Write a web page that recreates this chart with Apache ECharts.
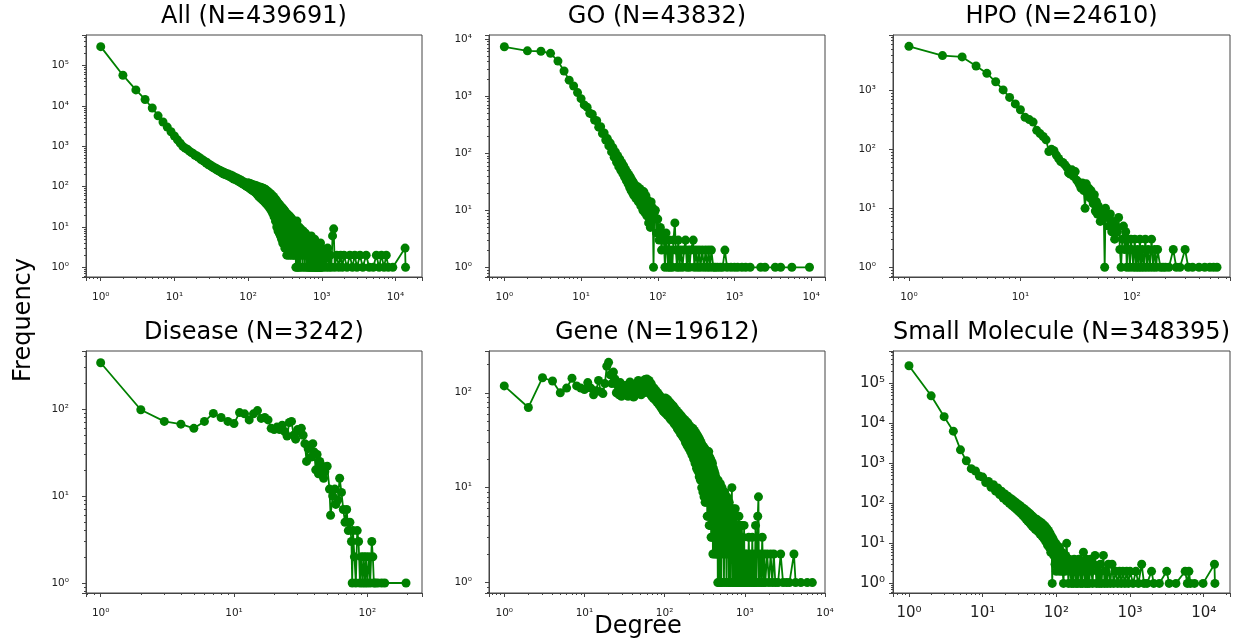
<!DOCTYPE html>
<html>
<head>
<meta charset="utf-8">
<script src="https://cdn.jsdelivr.net/npm/echarts@6/dist/echarts.min.js"></script>
<style>
html, body { margin: 0; padding: 0; background: #fff; }
#chart { width: 1251px; height: 644px; }
</style>
</head>
<body>
<div id="chart"></div>
<script>
// [degree, frequency] pairs
var allData = [[1,296000],[2,58000],[3,25000],[4,14500],[5,8900],[6,5700],[7,4000],[8,3000],[9,2300],[10,1800],[11,1450],[12,1200],[13,1000],[14,900],[15,840],[16,760],[17,700],[18,660],[19,600],[20,585],[21,540],[22,520],[23,470],[24,465],[25,430],[26,420],[27,385],[28,390],[29,350],[30,355],[31,330],[32,325],[33,300],[34,305],[35,285],[36,290],[37,265],[38,275],[39,250],[40,258],[41,240],[42,250],[43,228],[44,238],[45,215],[46,230],[47,205],[48,222],[49,198],[50,215],[52,190],[54,205],[56,178],[58,195],[60,165],[62,185],[64,155],[66,172],[68,148],[70,165],[72,140],[74,155],[76,132],[78,148],[80,125],[82,140],[84,118],[86,132],[88,112],[90,126],[92,106],[94,120],[96,100],[98,115],[100,125],[102,95],[104,120],[106,90],[108,118],[110,85],[112,115],[115,80],[118,110],[121,75],[124,108],[127,70],[130,105],[133,64],[136,100],[139,58],[142,98],[145,54],[148,96],[151,50],[155,94],[159,46],[163,90],[167,42],[171,86],[175,38],[180,80],[185,34],[190,74],[195,30],[200,68],[205,26],[210,62],[215,22],[220,57],[225,18],[230,52],[235,14],[240,47],[245,10],[250,42],[255,8],[260,38],[265,7],[270,35],[275,6],[280,32],[285,5],[290,30],[295,4],[300,28],[305,4],[310,26],[315,3],[320,24],[325,3],[330,22],[335,2],[340,21],[345,3],[350,20],[355,2],[360,19],[365,3],[370,18],[375,2],[380,17],[385,3],[390,16],[395,2],[400,15],[405,3],[410,14],[415,2],[420,13],[425,2],[430,12],[435,3],[440,12],[445,1],[450,11],[455,2],[460,14],[465,1],[470,10],[475,3],[480,9],[485,1],[490,10],[495,2],[500,8],[510,1],[520,9],[530,2],[540,7],[550,1],[560,8],[570,2],[580,6],[590,1],[600,7],[610,2],[620,5],[630,1],[640,6],[650,2],[660,1],[670,5],[680,1],[690,4],[700,2],[710,1],[720,6],[730,1],[740,3],[750,2],[760,1],[770,4],[780,1],[790,2],[800,5],[810,1],[820,3],[830,1],[840,2],[850,1],[860,4],[870,1],[880,3],[890,1],[900,2],[910,1],[920,3],[930,1],[940,2],[950,1],[960,4],[970,1],[980,2],[990,1],[1000,3],[1050,1],[1100,2],[1150,1],[1200,3],[1250,1],[1300,2],[1350,1],[1400,6],[1450,9],[1500,1],[1600,2],[1700,1],[1800,2],[1900,1],[2000,2],[2200,1],[2400,2],[2600,1],[2800,2],[3000,1],[3300,2],[3600,1],[4000,2],[4400,1],[5000,1],[5500,2],[6000,1],[6450,2],[7000,1],[7500,2],[8000,1],[9200,1],[13500,3],[13700,1]];

var goData = [[1,7300],[2,6200],[3,6100],[4,5600],[5,4100],[6,2750],[7,1900],[8,1500],[9,1150],[10,900],[11,700],[12,640],[13,500],[14,480],[15,380],[16,370],[17,285],[18,290],[19,220],[20,225],[21,170],[22,180],[23,135],[24,150],[25,105],[26,125],[27,85],[28,105],[29,70],[30,90],[31,58],[32,78],[33,50],[34,68],[35,44],[36,60],[37,38],[38,52],[39,33],[40,46],[41,29],[42,42],[43,25],[44,38],[45,22],[46,34],[47,20],[48,31],[49,18],[50,28],[52,16],[54,26],[56,14],[58,24],[60,12],[62,22],[64,10],[66,21],[68,9],[70,18],[72,8],[74,15],[76,6],[78,13],[80,5],[82,14],[84,7],[86,11],[88,1],[90,9],[93,10],[96,4],[100,7],[104,3],[108,5],[112,2],[116,4],[120,3],[124,1],[128,4],[132,2],[136,1],[140,3],[145,1],[150,2],[155,1],[160,3],[167,6],[172,2],[178,1],[185,3],[192,1],[200,2],[210,1],[220,2],[230,3],[240,1],[250,2],[260,1],[270,2],[290,3],[300,1],[315,2],[330,1],[345,2],[360,1],[380,2],[400,1],[420,2],[440,1],[460,2],[480,1],[500,2],[530,1],[560,1],[600,1],[650,1],[700,1],[750,2],[800,1],[900,1],[1000,1],[1100,1],[1250,1],[1400,1],[1600,1],[2200,1],[2500,1],[3400,1],[4000,1],[5600,1],[9500,1]];

var hpoData = [[1,5600],[2,3900],[3,3700],[4,2600],[5,1950],[6,1400],[7,1020],[8,760],[9,590],[10,470],[11,350],[12,320],[13,290],[14,210],[15,185],[16,165],[17,145],[18,92],[19,100],[20,95],[21,80],[22,70],[23,62],[24,60],[25,55],[26,50],[27,40],[28,38],[29,45],[30,35],[31,42],[32,30],[33,28],[34,25],[35,22],[36,27],[37,20],[38,10],[39,26],[40,18],[41,22],[42,15],[43,20],[44,14],[45,12],[46,17],[47,9],[48,13],[49,8],[50,11],[52,6],[54,9],[56,7],[57,1],[58,10],[60,7],[62,5],[64,8],[66,4],[68,6],[70,3],[72,5],[74,4],[76,7],[78,2],[80,1],[82,3],[84,5],[86,2],[88,4],[90,1],[92,3],[94,2],[96,1],[98,3],[100,2],[103,1],[106,3],[109,1],[112,2],[115,1],[118,3],[121,1],[124,2],[128,1],[132,3],[136,1],[140,2],[145,1],[150,3],[155,1],[160,2],[165,1],[170,2],[180,1],[190,1],[200,1],[215,1],[235,2],[250,1],[270,1],[300,2],[320,1],[350,1],[400,1],[450,1],[500,1],[540,1],[580,1]];

var diseaseData = [[1,340],[2,98],[3,72],[4,67],[5,60],[6,72],[7,89],[8,80],[9,72],[10,68],[11,91],[12,88],[13,75],[14,88],[15,96],[16,78],[17,80],[18,75],[19,60],[20,58],[21,62],[22,58],[23,65],[24,55],[25,49],[26,70],[27,72],[28,50],[29,45],[30,58],[31,55],[32,60],[33,50],[34,40],[35,25],[36,35],[37,38],[38,28],[39,40],[40,32],[41,20],[42,30],[43,18],[44,25],[45,20],[46,22],[47,16],[48,19],[50,22],[52,12],[53,6],[55,10],[57,12],[58,8],[60,9],[62,16],[64,11],[66,7],[68,5],[70,7],[72,4],[74,5],[76,3],[77,1],[78,4],[80,2],[82,1],[84,4],[86,3],[88,1],[90,2],[92,1],[94,2],[96,1],[98,2],[100,1],[103,2],[105,1],[108,3],[110,2],[112,1],[115,1],[120,1],[128,1],[135,1],[195,1]];

var geneData = [[1,118],[2,70],[3,144],[4,133],[5,100],[6,112],[7,142],[8,118],[9,112],[10,108],[11,128],[12,112],[13,95],[14,105],[15,135],[16,102],[17,98],[18,125],[19,190],[20,209],[21,155],[22,125],[23,165],[24,140],[25,100],[26,118],[27,95],[28,128],[29,92],[30,120],[31,105],[32,96],[33,112],[34,120],[35,92],[36,108],[37,130],[38,98],[39,118],[40,115],[41,90],[42,92],[43,122],[44,125],[45,100],[46,108],[47,135],[48,130],[49,110],[50,120],[51,95],[52,110],[53,128],[54,132],[55,100],[56,105],[57,138],[58,125],[59,108],[60,140],[61,110],[62,128],[63,100],[64,135],[65,105],[66,120],[67,96],[68,125],[69,92],[70,115],[72,88],[74,112],[76,84],[78,105],[80,80],[82,100],[84,76],[86,95],[88,72],[90,90],[92,68],[94,85],[96,64],[98,80],[100,62],[102,88],[104,60],[106,86],[108,58],[110,84],[112,57],[114,80],[116,54],[118,78],[120,52],[123,75],[126,50],[129,72],[132,47],[135,68],[138,45],[141,65],[144,42],[147,62],[150,40],[154,60],[158,37],[162,57],[166,35],[170,54],[174,33],[178,52],[182,30],[186,50],[190,28],[195,48],[200,26],[205,45],[210,24],[215,43],[220,22],[225,42],[230,20],[235,40],[240,18],[245,38],[250,16],[255,36],[260,15],[265,34],[270,13],[275,32],[280,12],[285,30],[290,10],[295,28],[300,9],[305,27],[310,8],[315,26],[320,7],[325,25],[330,7],[335,24],[340,5],[345,23],[350,5],[355,24],[360,4],[365,21],[370,4],[375,20],[380,3],[385,19],[390,3],[395,18],[400,2],[405,16],[410,3],[415,15],[420,2],[425,14],[430,3],[435,13],[440,2],[445,12],[450,2],[455,11],[460,1],[465,12],[470,2],[475,10],[480,1],[485,9],[490,2],[495,11],[500,1],[505,9],[510,1],[520,10],[530,2],[540,8],[550,1],[560,9],[570,2],[580,7],[590,1],[600,8],[610,2],[620,6],[630,1],[640,7],[650,3],[660,1],[670,6],[680,2],[690,10],[700,1],[710,5],[720,6],[730,1],[740,5],[750,2],[760,6],[770,1],[780,4],[790,5],[800,1],[815,4],[830,1],[845,5],[860,2],[875,1],[890,4],[905,1],[920,4],[935,1],[950,3],[965,1],[980,4],[995,1],[1010,2],[1030,1],[1060,2],[1090,1],[1120,3],[1150,1],[1180,2],[1210,1],[1240,3],[1270,1],[1300,2],[1330,1],[1360,4],[1400,1],[1450,5],[1480,8],[1500,1],[1550,2],[1600,1],[1650,3],[1700,1],[1750,2],[1800,1],[1900,2],[2000,1],[2100,2],[2200,1],[2300,2],[2400,1],[2600,1],[2800,2],[3000,1],[3300,1],[3600,1],[4100,2],[4300,1],[5000,1],[6000,1],[6950,1]];

var smallMolData = [[1,270000],[2,48000],[3,14500],[4,6300],[5,2150],[6,1150],[7,730],[8,640],[9,480],[10,450],[11,330],[12,350],[13,250],[14,290],[15,200],[16,240],[17,165],[18,200],[19,135],[20,170],[21,115],[22,150],[23,100],[24,132],[25,88],[26,118],[27,78],[28,106],[29,70],[30,96],[31,62],[32,88],[33,56],[34,80],[35,50],[36,74],[37,45],[38,68],[39,40],[40,63],[41,36],[42,58],[43,33],[44,54],[45,30],[46,50],[47,27],[48,46],[49,25],[50,43],[52,22],[54,40],[56,20],[58,36],[60,17],[62,33],[64,15],[66,30],[68,13],[70,27],[72,11],[74,24],[76,9],[78,21],[80,8],[82,18],[84,6],[86,15],[88,1],[90,13],[92,5],[94,11],[96,3],[98,10],[100,2],[102,9],[104,4],[106,7],[108,3],[110,8],[112,2],[114,6],[116,3],[119,6],[122,2],[125,1],[128,4],[131,2],[134,5],[138,10],[142,3],[146,1],[150,4],[155,2],[160,1],[165,3],[170,1],[175,4],[180,2],[185,1],[190,3],[196,1],[202,4],[208,2],[214,1],[220,3],[226,1],[233,6],[240,2],[247,1],[255,4],[263,1],[271,3],[280,1],[290,4],[300,2],[310,1],[320,3],[335,5],[350,1],[365,2],[380,1],[395,3],[410,1],[435,5],[450,1],[470,2],[490,1],[510,3],[540,1],[570,3],[600,1],[640,2],[680,1],[720,2],[760,1],[800,2],[850,1],[900,2],[950,1],[1000,2],[1100,1],[1200,2],[1300,1],[1440,3],[1550,1],[1700,1],[1960,2],[2100,1],[2500,1],[3150,2],[3400,1],[4200,1],[5600,2],[6000,1],[6300,2],[6600,1],[7500,1],[9800,1],[14000,3],[14200,1]];

var titles = ['All (N=439691)', 'GO (N=43832)', 'HPO (N=24610)', 'Disease (N=3242)', 'Gene (N=19612)', 'Small Molecule (N=348395)'];
var seriesData = [allData, goData, hpoData, diseaseData, geneData, smallMolData];

// layout: [left, top, width, height], log10 axis limits, tick font size, label margins
var panels = [
    {rect: [86, 35, 336, 242],  xr: [-0.2, 4.36],  yr: [-0.24, 5.76], fs: 10.5, xm: 15, ym: 17},
    {rect: [489, 35, 336, 242], xr: [-0.2, 4.18],  yr: [-0.17, 4.07], fs: 10.5, xm: 15, ym: 17},
    {rect: [893, 35, 337, 242], xr: [-0.143, 2.88], yr: [-0.165, 3.94], fs: 10.5, xm: 15, ym: 17},
    {rect: [86, 351, 336, 242], xr: [-0.11, 2.41], yr: [-0.115, 2.667], fs: 10.5, xm: 15, ym: 17},
    {rect: [489, 351, 336, 242], xr: [-0.19, 4.0], yr: [-0.11, 2.44], fs: 10.5, xm: 15, ym: 17},
    {rect: [893, 351, 337, 242], xr: [-0.217, 4.357], yr: [-0.24, 5.8], fs: 15, xm: 13, ym: 8}
];

var SUP = ['⁰', '¹', '²', '³', '⁴', '⁵', '⁶'];
function powLabel(v) {
    var e = Math.log10(v);
    var r = Math.round(e);
    if (Math.abs(e - r) > 1e-6 || r < 0) return '';
    return '10' + SUP[r];
}

var FONT = 'DejaVu Sans';
var grids = [], xAxes = [], yAxes = [], series = [], titleOpts = [];

panels.forEach(function (p, i) {
    grids.push({
        left: p.rect[0], top: p.rect[1], width: p.rect[2], height: p.rect[3],
        show: true, borderColor: '#444', borderWidth: 1, containLabel: false
    });
    var axisCommon = {
        type: 'log',
        logBase: 10,
        gridIndex: i,
        splitLine: {show: false},
        axisLine: {show: true, lineStyle: {color: '#444', width: 1}},
        axisTick: {show: true, inside: false, length: 4, lineStyle: {color: '#444'}},
        minorTick: {show: true, splitNumber: 9, length: 2, lineStyle: {color: '#444'}},
        axisLabel: {formatter: powLabel, color: '#222', fontFamily: FONT, fontSize: p.fs}
    };
    xAxes.push(echarts.util.merge({
        min: Math.pow(10, p.xr[0]), max: Math.pow(10, p.xr[1]),
        axisLabel: {margin: p.xm}
    }, axisCommon, true));
    yAxes.push(echarts.util.merge({
        min: Math.pow(10, p.yr[0]), max: Math.pow(10, p.yr[1]),
        axisLabel: {margin: p.ym}
    }, axisCommon, true));
    series.push({
        type: 'line',
        xAxisIndex: i,
        yAxisIndex: i,
        data: seriesData[i],
        symbol: 'circle',
        symbolSize: 9,
        showAllSymbol: true,
        color: '#008000',
        lineStyle: {color: '#008000', width: 1.8},
        itemStyle: {color: '#008000'},
        clip: true
    });
    titleOpts.push({
        text: titles[i],
        left: p.rect[0] + p.rect[2] / 2,
        top: p.rect[1] - 30,
        textAlign: 'center',
        padding: 0,
        textStyle: {fontFamily: FONT, fontSize: 24, fontWeight: 'normal', color: '#000'}
    });
});

var chart = echarts.init(document.getElementById('chart'));
chart.setOption({
    animation: false,
    backgroundColor: '#fff',
    title: titleOpts,
    grid: grids,
    xAxis: xAxes,
    yAxis: yAxes,
    series: series,
    graphic: [
        {type: 'text', x: 24, y: 320, rotation: Math.PI / 2,
         style: {text: 'Frequency', font: '24px "DejaVu Sans"', fill: '#000', align: 'center', verticalAlign: 'middle'}},
        {type: 'text', x: 638, y: 627,
         style: {text: 'Degree', font: '24px "DejaVu Sans"', fill: '#000', align: 'center', verticalAlign: 'middle'}}
    ]
});
</script>
</body>
</html>
